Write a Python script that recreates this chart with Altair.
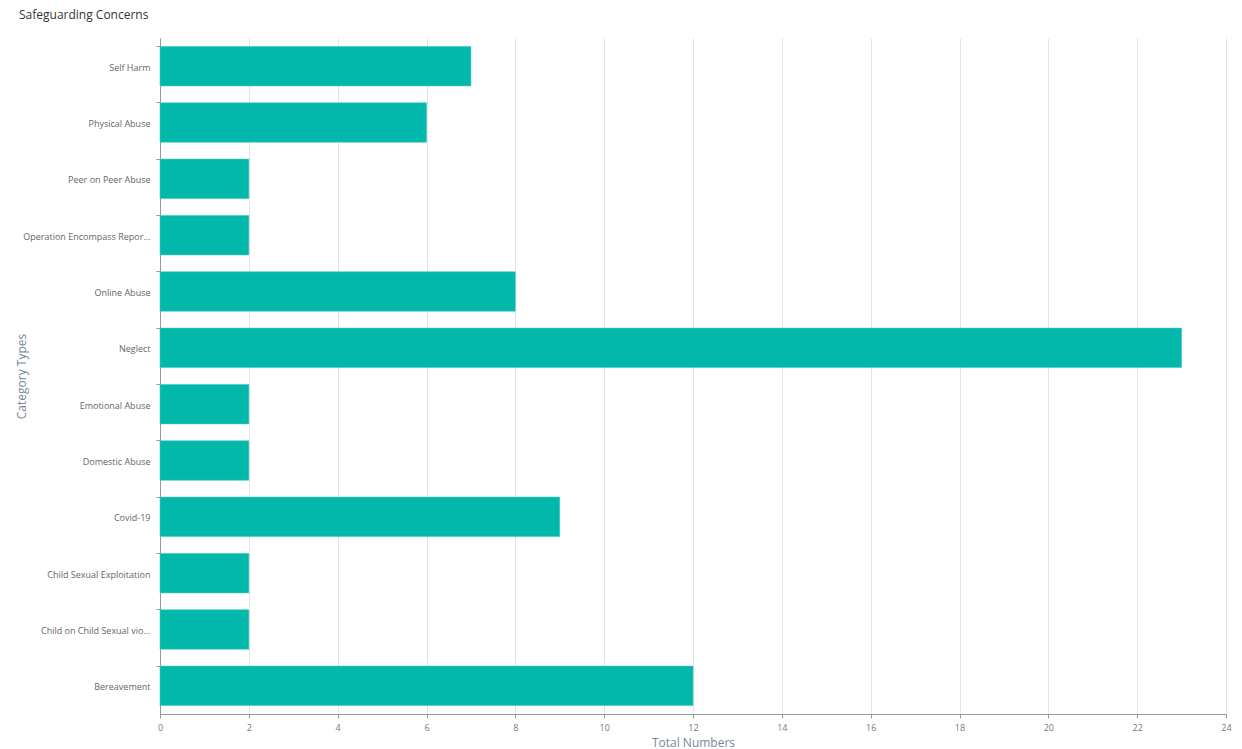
import altair as alt
import pandas as pd

categories = [
    "Self Harm", "Physical Abuse", "Peer on Peer Abuse", "Operation Encompass Repor...",
    "Online Abuse", "Neglect", "Emotional Abuse", "Domestic Abuse", "Covid-19",
    "Child Sexual Exploitation", "Child on Child Sexual vio...", "Bereavement",
]
values = [7, 6, 2, 2, 8, 23, 2, 2, 9, 2, 2, 12]
x_ticks = list(range(0, 25, 2))

df = pd.DataFrame({"category": categories, "value": values})

FONT = "Open Sans"

bars = alt.Chart(df).mark_bar(color="#01B8AA", stroke="#3fc9bd", strokeWidth=0.6).encode(
    y=alt.Y(
        "category:N", sort=categories, title="Category Types",
        scale=alt.Scale(paddingInner=0.3, paddingOuter=0.15),
        axis=alt.Axis(
            labelFontSize=9, labelColor="#666666", labelFont=FONT, labelPadding=6,
            labelBaseline="middle", labelOffset=1.5,
            titleFontSize=12, titleColor="#7a8599", titleFont=FONT, titleFontWeight="normal",
            titleX=-132, titleY=338, titleAngle=270, titleBaseline="bottom", titleAlign="center",
            domainColor="#999999", tickColor="#999999", tickSize=4,
            bandPosition=0, grid=False, labelLimit=200,
        ),
    ),
    x=alt.X(
        "value:Q", title="Total Numbers",
        scale=alt.Scale(domain=[0, 24], nice=False),
        axis=alt.Axis(
            values=x_ticks, labelFontSize=9, labelColor="#777777", labelFont=FONT,
            labelFlush=False,
            titleFontSize=12, titleColor="#7a8599", titleFont=FONT, titleFontWeight="normal",
            titlePadding=5, domainColor="#999999", tickColor="#999999", tickSize=4,
            gridColor="#e4e4e4", labelPadding=5,
        ),
    ),
)

chart = bars.properties(
    width=1066, height=676,
    title=alt.TitleParams(
        "Safeguarding Concerns", anchor="start", frame="group", fontSize=12,
        font=FONT, fontWeight="normal", color="#333333", dx=-141, dy=-12,
    ),
    autosize=alt.AutoSizeParams(type="none"),
    padding={"left": 152, "top": 30, "right": 8, "bottom": 33},
).configure_view(stroke=None)

chart.save("out.html", embed_options={"renderer": "svg", "actions": False})
